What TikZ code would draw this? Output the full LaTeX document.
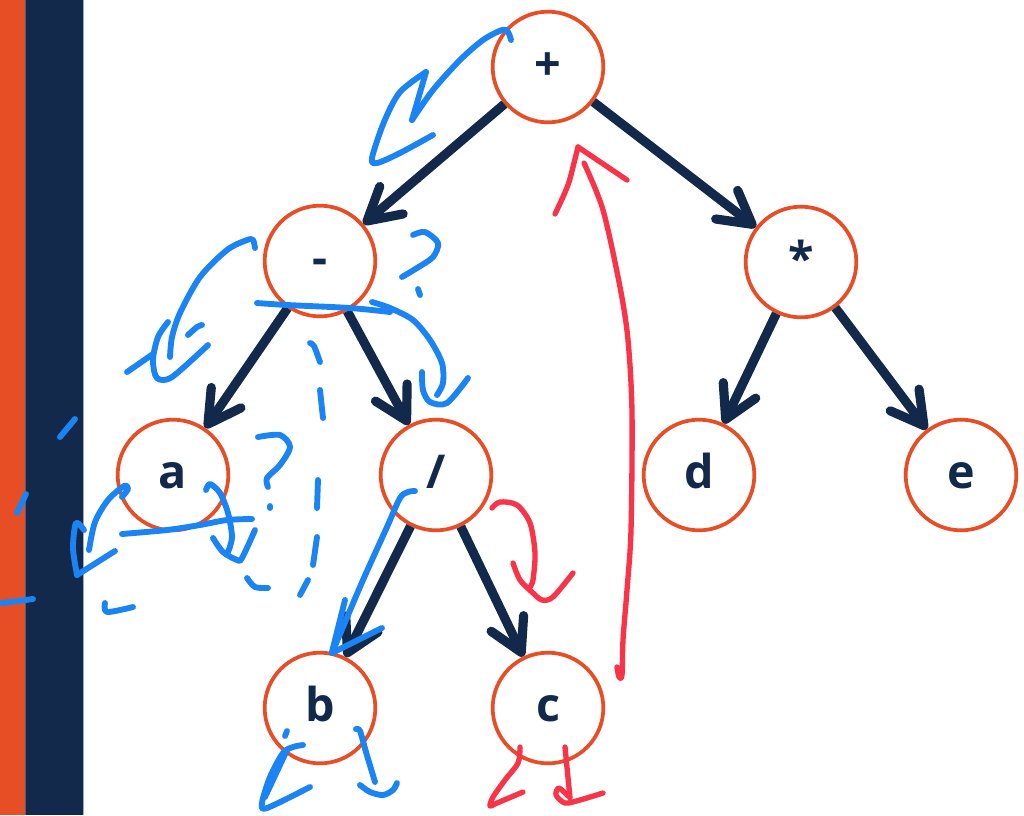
\documentclass[tikz,border=0pt]{standalone}
\usepackage{fontspec}
\setmainfont{Open Sans}
\usetikzlibrary{arrows.meta}
\definecolor{navy}{HTML}{13294B}
\definecolor{treeorange}{HTML}{E84E26}
\definecolor{penblue}{HTML}{1A84F5}
\definecolor{penred}{HTML}{F93448}
\definecolor{barline}{HTML}{4B5E86}
\definecolor{baredge}{HTML}{9AAACB}
\begin{document}
\begin{tikzpicture}[x=0.75pt, y=-0.75pt,
  opnode/.style={circle, draw=treeorange, line width=2.8pt, minimum size=83pt,
    inner sep=0pt, text=navy, font=\bfseries\fontsize{35}{35}\selectfont,
    text height=20pt, text depth=0pt},
  link/.style={draw=navy, line width=6.9pt,
    -{Straight Barb[length=24pt, width=27pt, round]}},
  blue pen/.style={draw=penblue, line width=4.4pt, line cap=round, line join=round},
  red pen/.style={draw=penred, line width=4pt, line cap=round, line join=round},
]
\useasboundingbox (0,0) rectangle (1024,815);
\fill[white] (0,0) rectangle (1024,815);

% side bars
\fill[treeorange] (0,0) rectangle (25,815);
\fill[navy] (25,0) rectangle (83,815);
\draw[barline, line width=1pt] (25.5,0) -- (25.5,815);
\draw[baredge, line width=1.2pt] (83.5,0) -- (83.5,815);

% expression tree
\node[opnode] (plus)  at (548,67)  {+};
\node[opnode] (minus) at (320,261) {-};
\node[opnode] (times) at (801,262) {*};
\node[opnode] (a)     at (173,475) {a};
\node[opnode] (div)   at (436,475) {/};
\node[opnode] (d)     at (699,475) {d};
\node[opnode] (e)     at (961,475) {e};
\node[opnode] (b)     at (320,708) {b};
\node[opnode] (c)     at (548,708) {c};

\draw[link] (plus) -- (minus);
\draw[link] (plus) -- (times);
\draw[link] (minus) -- (a);
\draw[link] (minus) -- (div);
\draw[link] (div) -- (b);
\draw[link] (div) -- (c);
\draw[link] (times) -- (d);
\draw[link] (times) -- (e);

% blue pen: traversal sketch
\draw[blue pen] plot[smooth] coordinates {(511,40) (508,32) (502,30) (483,40) (460,60) (433,90) (412,120)};
\draw[blue pen] (412,120) -- (426,72);
\draw[blue pen] plot[smooth] coordinates {(426,72) (400,92) (384,122) (372,158) (377,163) (400,153) (433,135)};

\draw[blue pen] plot[smooth] coordinates {(255,248) (253,240) (247,240) (227,250) (200,277) (180,313) (172,337) (170,357)};
\draw[blue pen] (127,372) -- (153,354);
\draw[blue pen] plot[smooth] coordinates {(168,322) (158,337) (153,360) (157,378) (172,377) (208,345)};
\draw[blue pen] plot[smooth] coordinates {(188,335) (197,327) (202,325)};

\draw[blue pen] plot[smooth] coordinates {(257,303) (287,305) (350,308) (390,312)};
\draw[blue pen] plot[smooth] coordinates {(372,302) (390,308) (413,320) (430,340) (442,363) (443,383) (437,395)};
\draw[blue pen] plot[smooth] coordinates {(422,372) (423,390) (430,402) (447,403) (468,378)};

\draw[blue pen] plot[smooth] coordinates {(413,235) (425,232) (438,243) (433,257) (417,268) (402,277)};
\draw[blue pen] (418,289) -- (420,295);

\draw[blue pen] plot[smooth] coordinates {(310,343) (314,346) (320,362)};
\draw[blue pen] (320,390) -- (323,418);
\draw[blue pen] (318,480) -- (317,508);
\draw[blue pen] (317,537) -- (313,565);
\draw[blue pen] (308,580) -- (300,595);
\draw[blue pen] plot[smooth] coordinates {(247,578) (255,587) (268,588)};

\draw[blue pen] plot[smooth] coordinates {(258,437) (280,435) (290,447) (280,465) (267,478) (268,487)};
\draw[blue pen] (270,506) -- (270,508);

\draw[blue pen] plot[smooth] coordinates {(122,534) (167,530) (200,525) (227,520) (252,519)};
\draw[blue pen] plot[smooth] coordinates {(206,490) (210,484) (220,493) (228,513) (232,537) (228,552)};
\draw[blue pen] plot[smooth] coordinates {(213,538) (223,552) (237,560) (242,558) (255,530)};

\draw[blue pen] plot[smooth] coordinates {(122,497) (128,489) (124,486) (108,500) (95,522) (89,550)};
\draw[blue pen] plot[smooth] coordinates {(84,530) (76,523) (73,548) (77,575)};
\draw[blue pen] (77,575) -- (115,551);
\draw[blue pen] plot[smooth] coordinates {(105,603) (107,612) (133,607)};

\draw[blue pen] (60,437) -- (75,419);
\draw[blue pen] (17,513) -- (26,494);
\draw[blue pen] (2,603) -- (33,599);

\draw[blue pen] plot[smooth] coordinates {(415,491) (408,492) (400,498) (387,527) (363,580) (343,627) (332,653)};
\draw[blue pen] (332,653) -- (382,628);
\draw[blue pen] (345,600) -- (332,652);

\draw[blue pen] plot[smooth] coordinates {(303,745) (293,747) (283,753) (270,777) (262,803) (267,808) (310,787)};
\draw[blue pen] (287,750) -- (265,797);
\draw[blue pen] (287,731) -- (285,736);
\draw[blue pen] plot[smooth] coordinates {(356,729) (360,731) (366,752) (375,782)};
\draw[blue pen] plot[smooth] coordinates {(360,785) (370,792) (383,795) (393,790) (397,783)};

% red pen: return path
\draw[red pen] plot[smooth] coordinates {(492,508) (500,502) (517,505) (530,523) (535,553) (533,580) (530,587)};
\draw[red pen] plot[smooth] coordinates {(513,563) (520,580) (533,593) (542,600) (553,597) (573,573)};

\draw[red pen] plot[smooth] coordinates {(617,667) (619,677) (622,675) (623,640) (627,590) (631,530) (632,413) (628,340) (620,287) (603,210) (584,163)};
\draw[red pen] plot[smooth] coordinates {(555,214) (568,185) (576,155) (578,147)};
\draw[red pen] (578,147) -- (627,180);

\draw[red pen] plot[smooth] coordinates {(520,747) (518,763) (505,780) (493,797) (490,806) (497,803) (523,792)};
\draw[red pen] (565,747) -- (570,798);
\draw[red pen] plot[smooth] coordinates {(568,796) (559,788) (556,795) (565,803) (580,800) (603,793)};
\end{tikzpicture}
\end{document}
